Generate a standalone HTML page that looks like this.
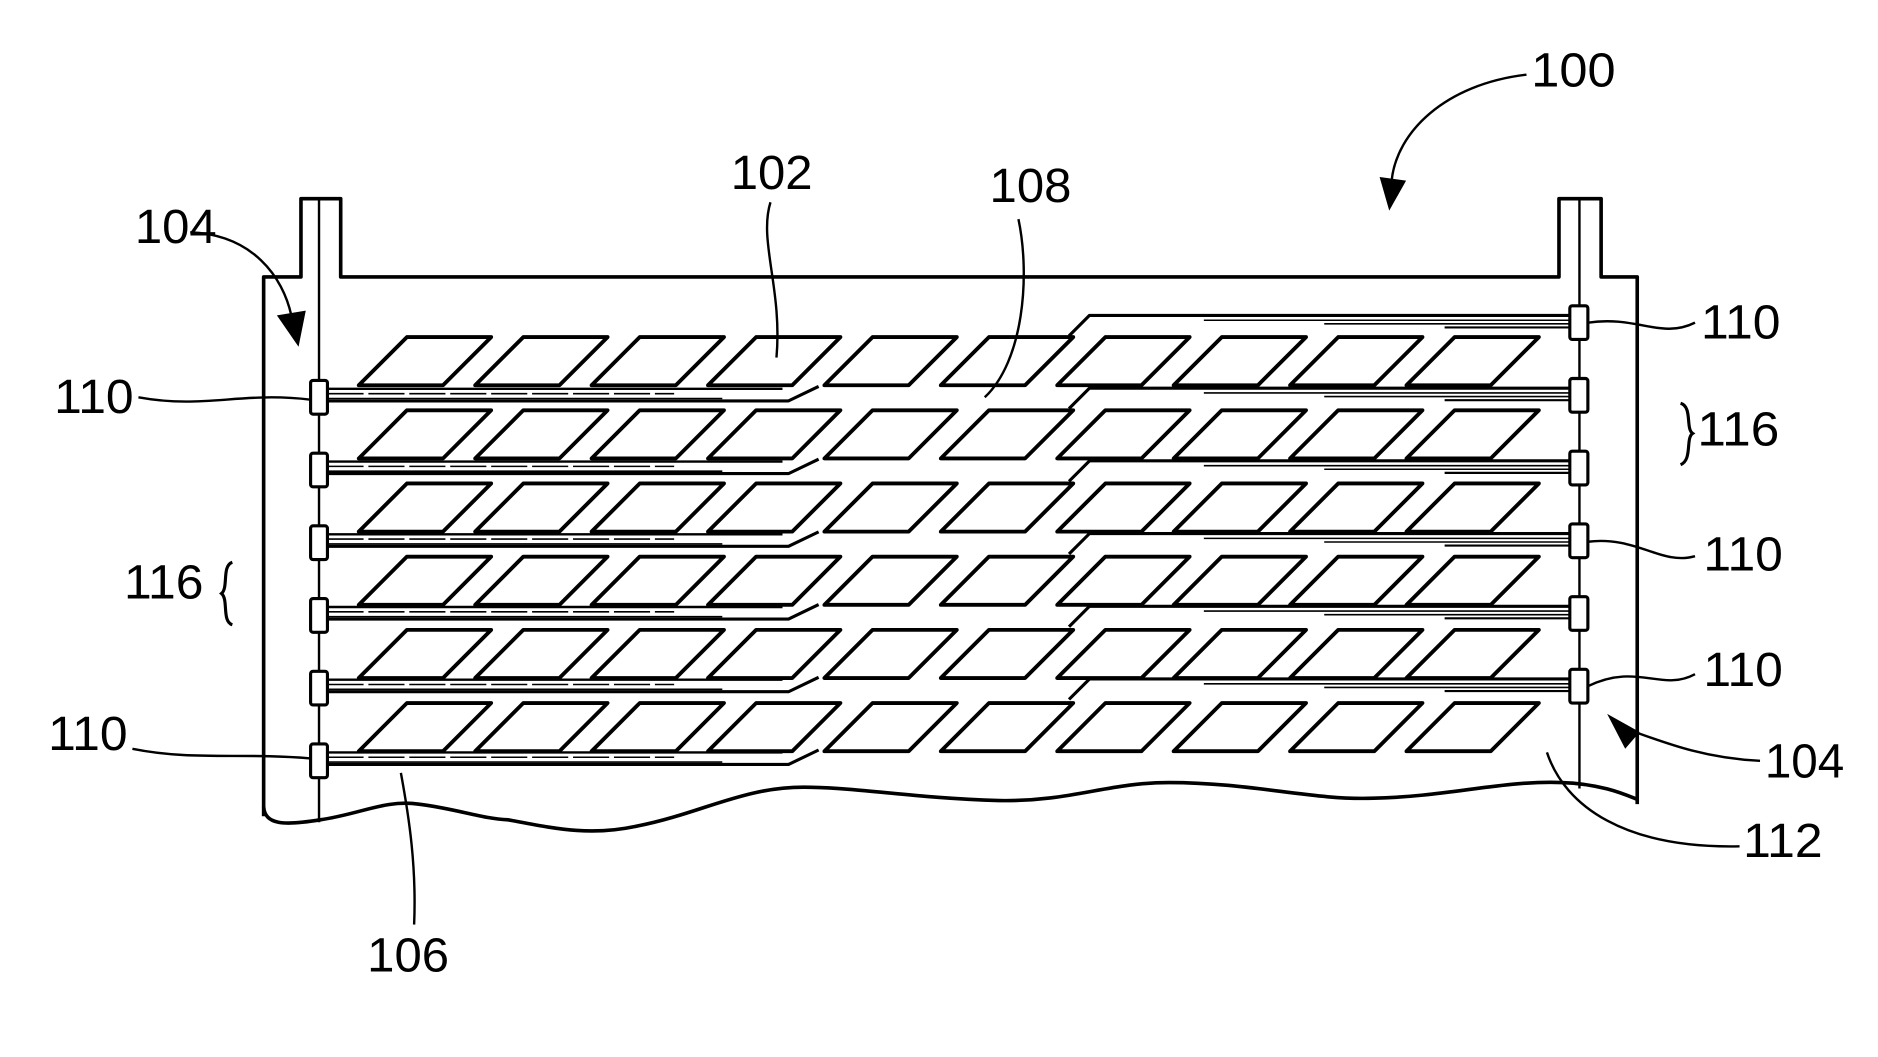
<!DOCTYPE html>
<html><head><meta charset="utf-8"><style>
html,body{margin:0;padding:0;background:#fff;}
svg{display:block;}
text{font-family:"Liberation Sans",Arial,sans-serif;font-size:40px;fill:#000;}
</style></head><body>
<svg width="1878" height="1057" viewBox="0 0 1560 878" preserveAspectRatio="none" xmlns="http://www.w3.org/2000/svg">
<g fill="none" stroke="#000" stroke-width="3" stroke-linejoin="round">
<path d="M219,678 L219,230 L250,230 L250,165 L283,165 L283,230 L1295,230 L1295,165 L1330,165 L1330,230 L1360,230 L1360,668"/>
<line x1="265" y1="165" x2="265" y2="683" stroke-width="2"/>
<line x1="1312" y1="165" x2="1312" y2="655" stroke-width="2"/>
<path d="M219,670 C220,685 235,686 266,681 C300,676 320,664 348,668 C380,672 400,680 422,681 C460,688 490,695 530,686 C585,675 620,652 674,654 C720,655 760,663 830,665 C890,666 920,650 971,650 C1040,650 1090,665 1141,663 C1200,662 1250,648 1297,650 C1330,651 1350,660 1360,664"/>
</g>
<g id="rows" fill="none" stroke="#000" stroke-linejoin="round">
</g>
<g fill="none" stroke="#000" stroke-width="2">
<path d="M1268,62 C1200,70 1160,110 1156,150"/>
<path d="M640,168 C630,200 650,240 645,297"/>
<path d="M846,182 C856,230 850,300 818,330"/>
<path d="M158,193 C210,195 235,230 242,262"/>
<path d="M115,330 C170,340 200,325 258,332"/>
<path d="M110,622 C160,632 200,625 258,630"/>
<path d="M1319,268 C1360,262 1380,282 1408,268"/>
<path d="M1319,450 C1360,445 1380,470 1408,462"/>
<path d="M1319,570 C1360,550 1380,575 1408,560"/>
<path d="M1462,632 C1420,630 1390,620 1350,605"/>
<path d="M1445,703 C1350,705 1300,670 1285,625"/>
<path d="M344,768 C346,720 340,680 333,642"/>
<path d="M193,467 C184,470 190,488 184,493 C190,498 184,516 193,519" stroke-width="2.6"/>
<path d="M1396,335 C1406,338 1400,356 1406,360 C1400,364 1406,382 1396,386" stroke-width="2.6"/>
</g>
<g fill="#000">
<polygon points="1146,147 1168,150 1154,175"/>
<polygon points="230,262 254,258 248,288"/>
<polygon points="1335,593 1362,608 1350,622"/>
</g>
<text x="1272" y="72" textLength="70" lengthAdjust="spacingAndGlyphs">100</text>
<text x="607" y="157" textLength="68" lengthAdjust="spacingAndGlyphs">102</text>
<text x="822" y="168" textLength="68" lengthAdjust="spacingAndGlyphs">108</text>
<text x="112" y="202" textLength="68" lengthAdjust="spacingAndGlyphs">104</text>
<text x="45" y="343" textLength="66" lengthAdjust="spacingAndGlyphs">110</text>
<text x="40" y="623" textLength="66" lengthAdjust="spacingAndGlyphs">110</text>
<text x="103" y="497" textLength="66" lengthAdjust="spacingAndGlyphs">116</text>
<text x="1413" y="281" textLength="66" lengthAdjust="spacingAndGlyphs">110</text>
<text x="1410" y="370" textLength="68" lengthAdjust="spacingAndGlyphs">116</text>
<text x="1415" y="474" textLength="66" lengthAdjust="spacingAndGlyphs">110</text>
<text x="1415" y="570" textLength="66" lengthAdjust="spacingAndGlyphs">110</text>
<text x="1466" y="646" textLength="66" lengthAdjust="spacingAndGlyphs">104</text>
<text x="1448" y="712" textLength="66" lengthAdjust="spacingAndGlyphs">112</text>
<text x="305" y="807" textLength="68" lengthAdjust="spacingAndGlyphs">106</text>
<script>
(function(){
var g=document.getElementById('rows');var ns='http://www.w3.org/2000/svg';
function el(t,a){var e=document.createElementNS(ns,t);for(var k in a)e.setAttribute(k,a[k]);g.appendChild(e);return e;}
var pitch=96.7;
for(var r=0;r<6;r++){
 var top=280+60.8*r, bot=top+40;
 for(var i=0;i<10;i++){
  var bl=298+pitch*i;
  el('polygon',{points:(bl+40)+','+top+' '+(bl+110)+','+top+' '+(bl+70)+','+bot+' '+bl+','+bot,'stroke-width':3.2});
 }
 var yL=330+60.4*r, yR=yL-62;
 el('polyline',{points:'272,'+(yL-7)+' 650,'+(yL-7),'stroke-width':2});
 el('polyline',{points:'272,'+(yL-3)+' 560,'+(yL-3),'stroke-width':1.3,'stroke-dasharray':'30 4'});
 el('polyline',{points:'272,'+(yL+1)+' 600,'+(yL+1),'stroke-width':1.3});
 el('polyline',{points:'272,'+(yL+3)+' 655,'+(yL+3)+' 680,'+(yL-9),'stroke-width':2.6});
 el('polyline',{points:'1304,'+(yR-6)+' 905,'+(yR-6)+' 888,'+(yR+11),'stroke-width':2.6});
 el('polyline',{points:'1304,'+(yR-2)+' 1000,'+(yR-2),'stroke-width':1.3});
 el('polyline',{points:'1304,'+(yR+1)+' 1100,'+(yR+1),'stroke-width':1.3});
 el('polyline',{points:'1304,'+(yR+4)+' 1200,'+(yR+4),'stroke-width':1.8});
 el('rect',{x:258,y:yL-14,width:14,height:28,rx:2,fill:'#fff','stroke-width':2.6});
 el('rect',{x:1304,y:yR-14,width:15,height:28,rx:2,fill:'#fff','stroke-width':2.6});
}
})();
</script>
</svg>
</body></html>
